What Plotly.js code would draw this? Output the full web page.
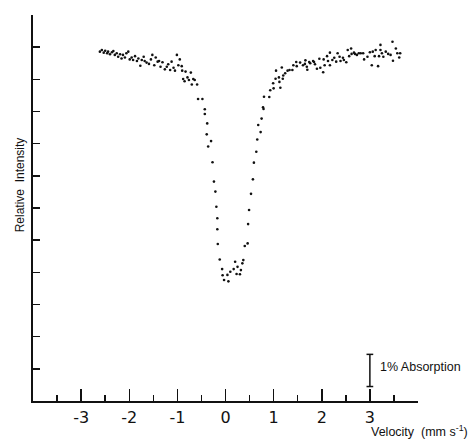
<!DOCTYPE html>
<html>
<head>
<meta charset="utf-8">
<script src="https://cdn.plot.ly/plotly-3.0.1.min.js"></script>
<style>html,body{margin:0;padding:0;background:#fff;}#chart{width:473px;height:442px;}</style>
</head>
<body>
<div id="chart"></div>
<script>
// Velocity (mm s^-1)
const velocity = [
-2.61,-2.57,-2.53,-2.50,-2.46,-2.44,-2.40,-2.36,-2.33,-2.30,-2.26,-2.23,-2.19,-2.16,-2.13,-2.09,-2.06,-2.02,-1.99,-1.95,
-1.92,-1.88,-1.84,-1.81,-1.77,-1.74,-1.70,-1.68,-1.64,-1.59,-1.55,-1.52,-1.48,-1.45,-1.41,-1.38,-1.35,-1.31,-1.26,-1.22,
-1.19,-1.15,-1.12,-1.08,-1.05,-1.01,-0.98,-0.95,-0.91,-0.90,-0.88,-0.85,-0.83,-0.79,-0.76,-0.72,-0.70,-0.67,-0.64,-0.59,
-0.57,-0.48,-0.43,-0.43,-0.38,-0.39,-0.30,-0.36,-0.27,-0.24,-0.21,-0.19,-0.17,
-0.17,-0.16,-0.12,-0.07,-0.06,-0.03,0.04,0.06,0.10,0.17,0.20,0.23,0.25,0.30,0.32,0.35,0.37,0.40,0.46,0.47,
0.49,0.53,0.57,0.59,0.64,0.66,0.73,0.68,0.75,0.79,0.78,
0.80,0.91,0.93,1.00,0.99,1.14,1.04,1.12,1.11,1.19,1.20,1.05,1.17,1.24,1.29,1.33,1.39,1.41,1.47,1.48,
1.55,1.61,1.66,1.65,1.69,1.70,1.74,1.76,1.82,1.84,1.86,1.90,1.95,1.97,2.03,2.04,2.06,2.11,2.13,2.17,
2.17,2.22,2.26,2.30,2.33,2.37,2.39,2.44,2.46,2.51,2.54,2.57,2.61,2.62,2.67,2.69,2.73,2.77,2.81,2.86,
2.88,2.95,3.00,3.04,3.06,3.10,3.12,3.17,3.19,3.22,3.22,3.25,3.28,3.33,3.38,3.43,3.47,3.48,3.54,3.57,
3.61,3.63
];
// Relative intensity (1 unit = 1% absorption)
const intensity = [
10.86,10.91,10.83,10.89,10.81,10.86,10.78,10.84,10.88,10.76,10.81,10.70,10.78,10.65,10.76,10.68,10.81,10.86,10.62,10.68,
10.60,10.72,10.57,10.65,10.42,10.60,10.70,10.57,10.52,10.48,10.62,10.76,10.44,10.68,10.55,10.57,10.39,10.53,10.31,10.39,
10.47,10.29,10.55,10.36,10.27,10.76,10.44,10.62,10.41,10.27,10.01,9.94,10.24,10.06,9.98,10.21,9.84,10.01,9.98,9.84,
9.39,9.39,9.07,8.92,8.63,8.29,8.08,7.91,7.42,6.82,6.51,6.04,5.68,
5.34,4.88,4.40,4.10,3.91,3.76,3.92,3.72,4.02,4.10,4.33,3.95,4.17,3.94,4.07,4.28,4.38,4.82,4.90,5.50,
5.94,6.44,6.89,7.41,7.75,8.13,8.36,8.58,8.78,9.08,9.13,
9.46,9.45,9.66,9.72,9.88,9.74,10.02,9.92,10.06,10.02,10.12,10.27,10.37,10.19,10.27,10.29,10.29,10.44,10.54,10.41,
10.52,10.44,10.59,10.48,10.39,10.30,10.54,10.50,10.57,10.54,10.47,10.33,10.64,10.36,10.22,10.62,10.44,10.72,10.57,10.83,
10.44,10.60,10.67,10.55,10.81,10.70,10.57,10.67,10.60,10.53,10.91,10.72,10.96,10.79,10.83,10.79,10.76,10.81,10.81,10.81,
10.62,10.70,10.84,10.44,10.86,10.72,10.91,10.41,10.72,11.07,10.91,10.81,10.70,10.86,10.79,10.76,11.17,10.58,10.96,10.81,
10.68,10.81
];
const xTickVals = [-4,-3,-2,-1,0,1,2,3,4];
const xTickText = ['','-3','-2','-1','0','1','2','3',''];
const xMinorVals = [-3.5,-2.5,-1.5,-0.5,0.5,1.5,2.5,3.5];
// 1% absorption scale bar (velocity position, intensity bottom/top)
const scaleBarX = 3.0;
const scaleBarY = [0.45, 1.45];

const ink = '#111';
const trace = {
  x: velocity, y: intensity, type: 'scatter', mode: 'markers',
  marker: {size: 2.6, color: ink}, hoverinfo: 'skip'
};
const layout = {
  width: 473, height: 442,
  margin: {l: 33, r: 55, t: 15, b: 41},
  paper_bgcolor: '#fff', plot_bgcolor: '#fff',
  showlegend: false,
  xaxis: {
    range: [-4, 4], showgrid: false, zeroline: false,
    showline: true, linecolor: ink, linewidth: 1.6,
    ticks: 'inside', ticklen: 12, tickwidth: 1.5, tickcolor: ink,
    tickmode: 'array', tickvals: xTickVals, ticktext: xTickText,
    ticklabelstandoff: 1,
    tickfont: {family: 'DejaVu Sans', size: 16, color: ink},
    minor: {tickmode: 'array', tickvals: xMinorVals, ticks: 'inside', ticklen: 6, tickwidth: 1.5, tickcolor: ink, showgrid: false}
  },
  yaxis: {
    range: [0, 12], showgrid: false, zeroline: false,
    showline: true, linecolor: ink, linewidth: 1.6,
    ticks: 'inside', ticklen: 7, tickwidth: 1.5, tickcolor: ink,
    dtick: 1, tick0: 0, showticklabels: false
  },
  shapes: [
    {type: 'line', xref: 'x', yref: 'y', x0: scaleBarX, x1: scaleBarX, y0: scaleBarY[0], y1: scaleBarY[1], line: {color: ink, width: 1.5}},
    {type: 'line', xref: 'x', yref: 'y', x0: scaleBarX - 0.07, x1: scaleBarX + 0.07, y0: scaleBarY[0], y1: scaleBarY[0], line: {color: ink, width: 1.5}},
    {type: 'line', xref: 'x', yref: 'y', x0: scaleBarX - 0.07, x1: scaleBarX + 0.07, y0: scaleBarY[1], y1: scaleBarY[1], line: {color: ink, width: 1.5}}
  ],
  annotations: [
    {text: '1% Absorption', xref: 'x', yref: 'y', x: scaleBarX + 0.16, y: (scaleBarY[0] + scaleBarY[1]) / 2 + 0.1,
     xanchor: 'left', yanchor: 'middle', showarrow: false,
     font: {family: 'Liberation Sans', size: 12.5, color: ink}},
    {text: 'Relative  Intensity', xref: 'paper', yref: 'paper', x: -0.035, y: 0.56, textangle: -90,
     xanchor: 'center', yanchor: 'middle', showarrow: false,
     font: {family: 'Liberation Sans', size: 12, color: ink}},
    {text: 'Velocity  (mm s<sup>-1</sup>)', xref: 'paper', yref: 'paper', x: 1.135, y: -0.078,
     xanchor: 'right', yanchor: 'middle', showarrow: false,
     font: {family: 'Liberation Sans', size: 12.5, color: ink}}
  ]
};
Plotly.newPlot('chart', [trace], layout, {staticPlot: true, displayModeBar: false});
</script>
</body>
</html>
